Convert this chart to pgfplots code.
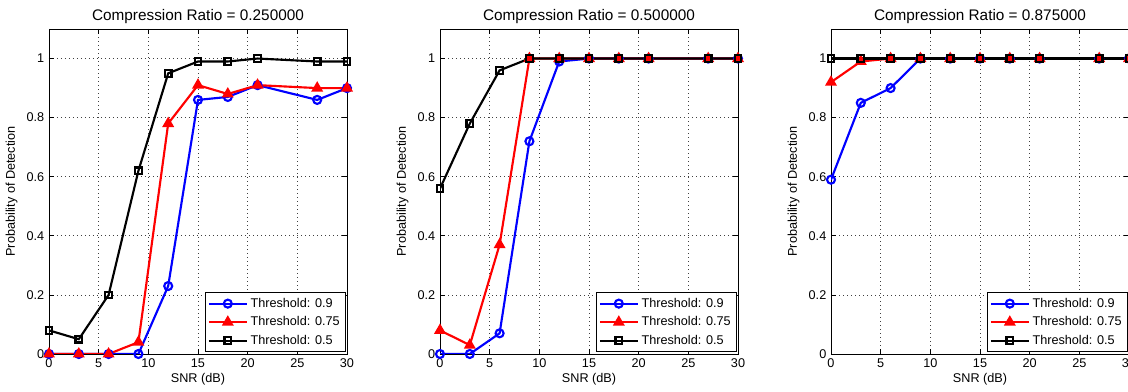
\documentclass[border=0pt]{standalone}
\usepackage{fontspec}
\setmainfont{Liberation Sans}
\usepackage{pgfplots}
\usepackage{pgfplotstable}
\pgfplotsset{compat=1.18}

\pgfplotstableread{
x b r k
0 0 0 0.08
3 0 0 0.05
6 0 0 0.20
9 0 0.04 0.62
12 0.23 0.78 0.95
15 0.86 0.91 0.99
18 0.87 0.88 0.99
21 0.91 0.91 1.00
27 0.86 0.90 0.99
30 0.90 0.90 0.99
}\tA
\pgfplotstableread{
x b r k
0 0 0.08 0.56
3 0 0.03 0.78
6 0.07 0.37 0.96
9 0.72 1.00 1.00
12 0.99 1.00 1.00
15 1.00 1.00 1.00
18 1.00 1.00 1.00
21 1.00 1.00 1.00
27 1.00 1.00 1.00
30 1.00 1.00 1.00
}\tB
\pgfplotstableread{
x b r k
0 0.59 0.92 1.00
3 0.85 0.99 1.00
6 0.90 1.00 1.00
9 1.00 1.00 1.00
12 1.00 1.00 1.00
15 1.00 1.00 1.00
18 1.00 1.00 1.00
21 1.00 1.00 1.00
27 1.00 1.00 1.00
30 1.00 1.00 1.00
}\tC

\pgfplotsset{
  panel/.style={
  scale only axis, width=223.5pt, height=243.75pt,
  xmin=0, xmax=30, ymin=0, ymax=1.1,
  xtick={0,5,10,15,20,25,30}, ytick={0,0.2,0.4,0.6,0.8,1},
  grid=major, grid style={black!75, line width=0.5pt, dash pattern=on 0.6pt off 2.4pt},
  axis line style={black, line width=0.7pt},
  tick style={black, line width=0.5pt},
  major tick length=4pt,
  font=\fontsize{9.5}{11}\selectfont,
  /pgf/number format/assume math mode=true,
  tick label style={font=\fontsize{9.5}{11}\selectfont},
  label style={font=\fontsize{9.5}{11}\selectfont},
  title style={font=\fontsize{11.5}{13}\selectfont, yshift=-5.5pt},
  xlabel={SNR (dB)}, ylabel={Probability of Detection},
  xlabel style={yshift=3pt},
  legend style={at={(0.995,0.006)}, anchor=south east, draw=black, line width=0.7pt,
    font=\fontsize{9.5}{11}\selectfont, row sep=1.5pt, inner sep=2pt},
  legend cell align=left,
  every axis plot/.append style={line width=1.6pt},
  every axis plot post/.append style={legend image code/.code={%
    \draw[mark repeat=2,mark phase=2] plot coordinates {(0cm,0cm) (0.5cm,0cm) (1cm,0cm)};}},
  },
  sB/.style={blue, mark=o, mark size=3pt, mark options={solid}},
  sR/.style={red, mark=triangle*, mark size=3.6pt, mark options={solid}},
  sK/.style={black, mark=square, mark size=2.5pt, mark options={solid}},
}

\begin{document}
\begin{tikzpicture}
\begin{axis}[panel, at={(0pt,0pt)}, title={Compression Ratio = 0.250000}]
\addplot[sB] table[x=x,y=b] {\tA};
\addplot[sR] table[x=x,y=r] {\tA};
\addplot[sK] table[x=x,y=k] {\tA};
\legend{Threshold: 0.9, Threshold: 0.75, Threshold: 0.5}
\end{axis}
\begin{axis}[panel, at={(293.25pt,0pt)}, title={Compression Ratio = 0.500000}]
\addplot[sB] table[x=x,y=b] {\tB};
\addplot[sR] table[x=x,y=r] {\tB};
\addplot[sK] table[x=x,y=k] {\tB};
\legend{Threshold: 0.9, Threshold: 0.75, Threshold: 0.5}
\end{axis}
\begin{axis}[panel, at={(586.5pt,0pt)}, title={Compression Ratio = 0.875000}]
\addplot[sB] table[x=x,y=b] {\tC};
\addplot[sR] table[x=x,y=r] {\tC};
\addplot[sK] table[x=x,y=k] {\tC};
\legend{Threshold: 0.9, Threshold: 0.75, Threshold: 0.5}
\end{axis}
\pgfresetboundingbox
\path (-36.75pt,-28.5pt) rectangle (809.25pt,265.5pt);
\end{tikzpicture}
\end{document}
